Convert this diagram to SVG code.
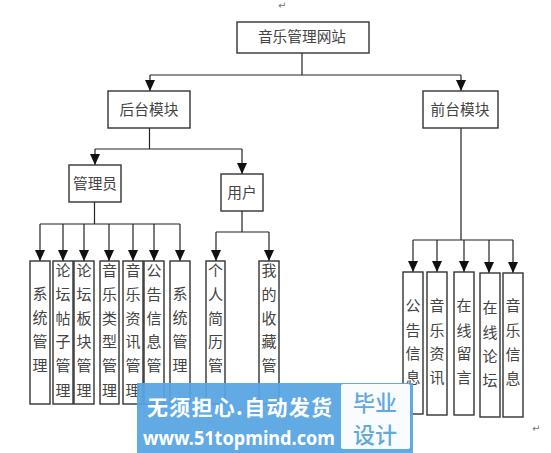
<svg xmlns="http://www.w3.org/2000/svg" width="551" height="453" viewBox="0 0 551 453">
<style>
text{font-family:"Noto Sans CJK SC","Liberation Sans",sans-serif}
.b{fill:#fff;stroke:#333;stroke-width:1.4}
.t{font-size:14.700px;fill:#444;text-anchor:middle}
.v{font-size:15px;fill:#444;text-anchor:middle}
.c{fill:none;stroke:#222;stroke-width:1.2}
.a{fill:none;stroke:#222;stroke-width:1.2;marker-end:url(#ar)}
.m{font-family:"DejaVu Sans",sans-serif;font-size:10px;fill:#777}
</style>
<defs>
<marker id="ar" markerUnits="userSpaceOnUse" markerWidth="12" markerHeight="10" refX="11" refY="5" orient="auto" viewBox="0 0 12 10"><path d="M0,0 L11,5 L0,10 Z" fill="#111"/></marker>
</defs>
<rect width="551" height="453" fill="#fff"/>
<text class="m" x="278" y="9">↵</text>
<text class="m" x="532" y="432">↵</text>
<g id="connectors">
<path class="c" d="M302,53V75M150,75H461"/>
<path class="a" d="M150,75V91"/><path class="a" d="M461,75V91"/>
<path class="c" d="M149.500,128V149M95,149H242"/>
<path class="a" d="M95,149V165"/><path class="a" d="M242,149V174"/>
<path class="c" d="M94.500,202V224M40,224H180M242,211V232M216,232H269M461,128V240M413,240H513"/>
<path class="a" d="M40,224V261"/><path class="a" d="M63,224V261"/><path class="a" d="M84,224V261"/><path class="a" d="M109,224V261"/><path class="a" d="M133,224V261"/><path class="a" d="M154,224V261"/><path class="a" d="M180,224V261"/>
<path class="a" d="M216,232V261"/><path class="a" d="M269,232V261"/>
<path class="a" d="M413,240V272"/><path class="a" d="M437,240V272"/><path class="a" d="M464,240V272"/><path class="a" d="M489,240V273"/><path class="a" d="M513,240V273"/>
</g>
<g id="n-root"><rect class="b" x="237" y="22" width="132" height="31"/><text class="t" x="302" y="42">音乐管理网站</text></g>
<g id="n-back"><rect class="b" x="108" y="91" width="82" height="37"/><text class="t" x="149" y="115">后台模块</text></g>
<g id="n-front"><rect class="b" x="423" y="91" width="75" height="37"/><text class="t" x="460" y="115">前台模块</text></g>
<g id="n-admin"><rect class="b" x="69" y="165" width="52" height="37"/><text class="t" x="95" y="189">管理员</text></g>
<g id="n-user"><rect class="b" x="221" y="174" width="42" height="37"/><text class="t" x="242" y="198">用户</text></g>
<g id="n-a1"><rect class="b" x="30" y="261" width="20" height="143"/><text class="v"><tspan x="40" y="299">系</tspan><tspan x="40" y="323">统</tspan><tspan x="40" y="347">管</tspan><tspan x="40" y="371">理</tspan></text></g>
<g id="n-a2"><rect class="b" x="53" y="261" width="20" height="143"/><text class="v"><tspan x="63" y="276">论</tspan><tspan x="63" y="300">坛</tspan><tspan x="63" y="324">帖</tspan><tspan x="63" y="347">子</tspan><tspan x="63" y="371">管</tspan><tspan x="63" y="396">理</tspan></text></g>
<g id="n-a3"><rect class="b" x="74" y="261" width="20" height="143"/><text class="v"><tspan x="84" y="276">论</tspan><tspan x="84" y="300">坛</tspan><tspan x="84" y="324">板</tspan><tspan x="84" y="347">块</tspan><tspan x="84" y="371">管</tspan><tspan x="84" y="396">理</tspan></text></g>
<g id="n-a4"><rect class="b" x="100" y="261" width="19" height="143"/><text class="v"><tspan x="109.500" y="276">音</tspan><tspan x="109.500" y="300">乐</tspan><tspan x="109.500" y="324">类</tspan><tspan x="109.500" y="347">型</tspan><tspan x="109.500" y="371">管</tspan><tspan x="109.500" y="396">理</tspan></text></g>
<g id="n-a5"><rect class="b" x="123" y="261" width="20" height="143"/><text class="v"><tspan x="133" y="276">音</tspan><tspan x="133" y="300">乐</tspan><tspan x="133" y="324">资</tspan><tspan x="133" y="347">讯</tspan><tspan x="133" y="371">管</tspan><tspan x="133" y="396">理</tspan></text></g>
<g id="n-a6"><rect class="b" x="144" y="261" width="20" height="143"/><text class="v"><tspan x="154" y="276">公</tspan><tspan x="154" y="300">告</tspan><tspan x="154" y="324">信</tspan><tspan x="154" y="347">息</tspan><tspan x="154" y="371">管</tspan></text></g>
<g id="n-a7"><rect class="b" x="170" y="261" width="20" height="143"/><text class="v"><tspan x="180" y="299">系</tspan><tspan x="180" y="323">统</tspan><tspan x="180" y="347">管</tspan><tspan x="180" y="371">理</tspan></text></g>
<g id="n-u1"><rect class="b" x="206" y="261" width="19" height="143"/><text class="v"><tspan x="215.500" y="276">个</tspan><tspan x="215.500" y="300">人</tspan><tspan x="215.500" y="324">简</tspan><tspan x="215.500" y="347">历</tspan><tspan x="215.500" y="371">管</tspan></text></g>
<g id="n-u2"><rect class="b" x="259" y="261" width="20" height="143"/><text class="v"><tspan x="269" y="276">我</tspan><tspan x="269" y="300">的</tspan><tspan x="269" y="324">收</tspan><tspan x="269" y="347">藏</tspan><tspan x="269" y="371">管</tspan></text></g>
<g id="n-f1"><rect class="b" x="403" y="272" width="20" height="142"/><text class="v"><tspan x="413" y="311">公</tspan><tspan x="413" y="336">告</tspan><tspan x="413" y="359">信</tspan><tspan x="413" y="383">息</tspan></text></g>
<g id="n-f2"><rect class="b" x="427" y="272" width="20" height="143"/><text class="v"><tspan x="437" y="311">音</tspan><tspan x="437" y="336">乐</tspan><tspan x="437" y="359">资</tspan><tspan x="437" y="383">讯</tspan></text></g>
<g id="n-f3"><rect class="b" x="454" y="272" width="20" height="143"/><text class="v"><tspan x="464" y="311">在</tspan><tspan x="464" y="336">线</tspan><tspan x="464" y="359">留</tspan><tspan x="464" y="383">言</tspan></text></g>
<g id="n-f4"><rect class="b" x="480" y="273" width="20" height="144"/><text class="v"><tspan x="490" y="313">在</tspan><tspan x="490" y="338">线</tspan><tspan x="490" y="362">论</tspan><tspan x="490" y="386">坛</tspan></text></g>
<g id="n-f5"><rect class="b" x="503" y="273" width="20" height="144"/><text class="v"><tspan x="513" y="311">音</tspan><tspan x="513" y="336">乐</tspan><tspan x="513" y="360">信</tspan><tspan x="513" y="384">息</tspan></text></g>
<g id="watermark">
<rect x="137" y="383" width="276" height="70" fill="#58a5e2" fill-opacity="0.94"/>
<rect x="341" y="384" width="69" height="65" rx="2" fill="#fff" fill-opacity="0.96"/>
<text x="147" y="415" font-size="21" font-weight="700" fill="#fff" textLength="185">无须担心.自动发货</text>
<text x="143" y="445" font-size="19" font-weight="700" fill="#fff" textLength="192" lengthAdjust="spacingAndGlyphs" style="font-family:'Noto Sans','Liberation Sans',sans-serif">www.51topmind.com</text>
<text x="375" y="411" font-size="22" font-weight="500" fill="#62a8dd" text-anchor="middle">毕业</text>
<text x="375" y="443" font-size="22" font-weight="500" fill="#62a8dd" text-anchor="middle">设计</text>
</g>
</svg>
